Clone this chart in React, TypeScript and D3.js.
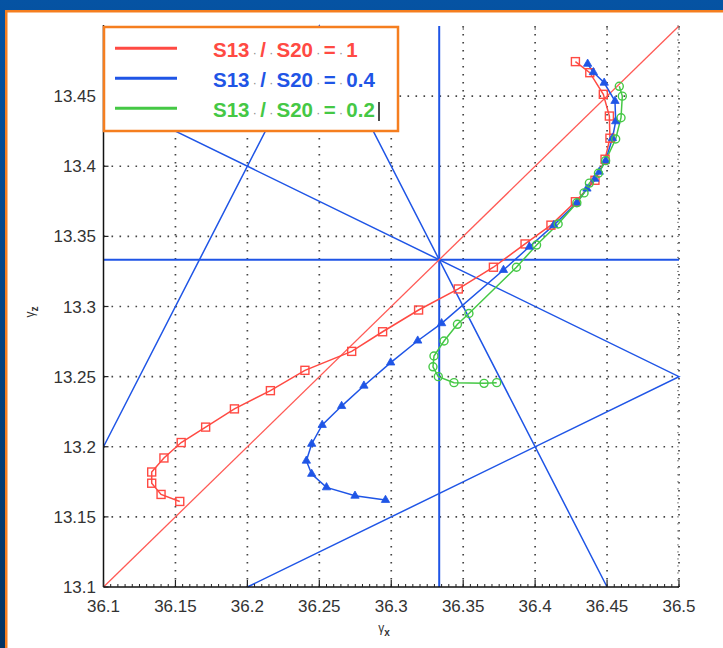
import React from "react";
import * as d3 from "d3";

// ---- data ----
const xTickValues = [36.1, 36.15, 36.2, 36.25, 36.3, 36.35, 36.4, 36.45, 36.5];
const xTickLabels = ["36.1", "36.15", "36.2", "36.25", "36.3", "36.35", "36.4", "36.45", "36.5"];
const yTickValues = [13.1, 13.15, 13.2, 13.25, 13.3, 13.35, 13.4, 13.45];
const yTickLabels = ["13.1", "13.15", "13.2", "13.25", "13.3", "13.35", "13.4", "13.45"];

const redSeries: [number, number][] = [
  [36.153, 13.161], [36.14, 13.166], [36.1335, 13.174], [36.1335, 13.182], [36.142, 13.192],
  [36.154, 13.203], [36.171, 13.214], [36.191, 13.227], [36.216, 13.24], [36.24, 13.2545],
  [36.2725, 13.268], [36.294, 13.282], [36.319, 13.2975], [36.3466, 13.3125], [36.371, 13.328],
  [36.393, 13.3446], [36.411, 13.358], [36.428, 13.3747], [36.4416, 13.39], [36.4486, 13.405],
  [36.452, 13.42], [36.4516, 13.4358], [36.4474, 13.4513], [36.438, 13.4667], [36.428, 13.4746],
];
const blueSeries: [number, number][] = [
  [36.296, 13.162], [36.2748, 13.165], [36.255, 13.171], [36.2447, 13.1806], [36.241, 13.19],
  [36.2447, 13.202], [36.252, 13.2155], [36.2655, 13.229], [36.281, 13.2435], [36.2996, 13.26],
  [36.3184, 13.2756], [36.335, 13.288], [36.378, 13.326], [36.396, 13.3426], [36.413, 13.358],
  [36.429, 13.374], [36.436, 13.384], [36.4415, 13.391], [36.4446, 13.396], [36.449, 13.404],
  [36.4537, 13.42], [36.456, 13.432], [36.4555, 13.4465], [36.448, 13.4595], [36.4405, 13.467],
  [36.4365, 13.473],
];
const greenSeries: [number, number][] = [
  [36.3733, 13.2457], [36.3645, 13.2452], [36.3436, 13.2457], [36.3327, 13.25], [36.329, 13.257],
  [36.3297, 13.2647], [36.3367, 13.2754], [36.346, 13.2873], [36.354, 13.295], [36.387, 13.328],
  [36.401, 13.3438], [36.416, 13.3588], [36.429, 13.374], [36.434, 13.381], [36.4377, 13.388],
  [36.444, 13.395], [36.449, 13.404], [36.456, 13.4194], [36.4597, 13.4346], [36.4606, 13.45],
  [36.4585, 13.457],
];

const refPolylines: [number, number][][] = [
  [[36.1, 13.2], [36.25, 13.5], [36.45, 13.1]],
  [[36.1, 13.45], [36.5, 13.25], [36.2, 13.1]],
];
const crossPoint: [number, number] = [36.33333, 13.33333];
const diagonal: [number, number][] = [[36.1, 13.1], [36.5, 13.5]];

const legendLabels = [
  ["S13", "/", "S20", "=", "1"],
  ["S13", "/", "S20", "=", "0.4"],
  ["S13", "/", "S20", "=", "0.2"],
];

// ---- styles ----
const RED = "#ff4a43";
const BLUE = "#1f55e6";
const GREEN = "#45c845";
const ORANGE = "#f57e1f";

const W = 723;
const H = 648;
const left = 103.5, right = 679, top = 26, bottom = 587;

export default function App() {
  const x = d3.scaleLinear().domain([36.1, 36.5]).range([left, right]);
  const y = d3.scaleLinear().domain([13.1, 13.5]).range([bottom, top]);
  const line = d3.line<[number, number]>().x((d) => x(d[0])).y((d) => y(d[1]));

  const minorX = d3.range(0, 81).map((i) => 36.1 + i * 0.005);
  const minorY = d3.range(0, 81).map((i) => 13.1 + i * 0.005);

  const tri = d3.symbol().type(d3.symbolTriangle).size(30)();

  const gridDash = "1.6,6.4";
  const series = [
    { data: redSeries, color: RED },
    { data: blueSeries, color: BLUE },
    { data: greenSeries, color: GREEN },
  ];
  const legendColors = [RED, BLUE, GREEN];

  return (
    <div style={{ position: "fixed", left: 0, top: 0, width: W, height: H }}>
      <svg width={W} height={H} style={{ display: "block" }} fontFamily="'Liberation Sans', Arial, sans-serif">
        <defs>
          <linearGradient id="frameGrad" x1="0" y1="0" x2="0" y2="1">
            <stop offset="0" stopColor="#0553a3" />
            <stop offset="1" stopColor="#033463" />
          </linearGradient>
        </defs>
        <rect x={0} y={0} width={W} height={H} fill="url(#frameGrad)" />
        <rect x={5} y={10} width={W - 5} height={H - 10} fill={ORANGE} />
        <rect x={7.5} y={12.5} width={W - 7.5} height={H - 12.5} fill="#ffffff" />

        {/* grid */}
        {xTickValues.slice(1).map((v) => (
          <line key={"gx" + v} x1={x(v)} x2={x(v)} y1={top} y2={bottom} stroke="#444" strokeWidth={1.7} strokeDasharray={gridDash} />
        ))}
        {yTickValues.slice(1).map((v) => (
          <line key={"gy" + v} x1={left} x2={right} y1={y(v)} y2={y(v)} stroke="#444" strokeWidth={1.7} strokeDasharray={gridDash} />
        ))}
        {/* right edge minor ticks */}
        {minorY.map((v, i) => (
          <line key={"ry" + i} x1={right - 2} x2={right} y1={y(v)} y2={y(v)} stroke="#888" strokeWidth={1} />
        ))}

        {/* reference lines */}
        {refPolylines.map((pl, i) => (
          <path key={"ref" + i} d={line(pl) || ""} fill="none" stroke={BLUE} strokeWidth={1.5} />
        ))}
        <line x1={left} x2={right} y1={y(crossPoint[1])} y2={y(crossPoint[1])} stroke={BLUE} strokeWidth={2} />
        <line x1={x(crossPoint[0])} x2={x(crossPoint[0])} y1={top} y2={bottom} stroke={BLUE} strokeWidth={2} />
        <path d={line(diagonal) || ""} fill="none" stroke="#ff5a55" strokeWidth={1.3} />

        {/* series */}
        {series.map((s, i) => (
          <path key={"s" + i} d={line(s.data) || ""} fill="none" stroke={s.color} strokeWidth={1.5} />
        ))}
        {redSeries.map((d, i) => (
          <rect key={"rm" + i} x={x(d[0]) - 4} y={y(d[1]) - 4} width={8} height={8} fill="none" stroke={RED} strokeWidth={1.4} />
        ))}
        {blueSeries.map((d, i) => (
          <path key={"bm" + i} d={tri || ""} transform={`translate(${x(d[0])},${y(d[1])})`} fill={BLUE} stroke={BLUE} strokeWidth={0.8} />
        ))}
        {greenSeries.map((d, i) => (
          <circle key={"gm" + i} cx={x(d[0])} cy={y(d[1])} r={4} fill="none" stroke={GREEN} strokeWidth={1.4} />
        ))}

        {/* axes */}
        <line x1={left} x2={left} y1={top - 1} y2={bottom} stroke="#111" strokeWidth={1.5} />
        <line x1={left} x2={right} y1={bottom} y2={bottom} stroke="#111" strokeWidth={1.5} />
        {minorX.map((v, i) => (
          <line key={"mx" + i} x1={x(v)} x2={x(v)} y1={bottom} y2={bottom - 3} stroke="#222" strokeWidth={1} />
        ))}
        {xTickValues.map((v) => (
          <g key={"tx" + v}>
            <line x1={x(v)} x2={x(v)} y1={bottom} y2={bottom - 7} stroke="#222" strokeWidth={1.2} />
            <line x1={x(v)} x2={x(v)} y1={top} y2={top + 4} stroke="#666" strokeWidth={1} />
          </g>
        ))}
        {yTickValues.map((v) => (
          <line key={"ty" + v} x1={left} x2={left + 5} y1={y(v)} y2={y(v)} stroke="#222" strokeWidth={1.2} />
        ))}
        {xTickValues.map((v, i) => (
          <text key={"xl" + v} x={x(v)} y={612} textAnchor="middle" fontSize={17} fill="#333">
            {xTickLabels[i]}
          </text>
        ))}
        {yTickValues.map((v, i) => (
          <text key={"yl" + v} x={96} y={y(v) + 6} textAnchor="end" fontSize={17} fill="#333">
            {yTickLabels[i]}
          </text>
        ))}
        <text x={384} y={632} textAnchor="middle" fontSize={12} fill="#333">
          γ<tspan fontSize={10} fontWeight="bold" dy={4}>x</tspan>
        </text>
        <text transform="translate(34,312) rotate(-90)" textAnchor="middle" fontSize={12} fill="#333">
          γ<tspan fontSize={10} fontWeight="bold" dy={4}>z</tspan>
        </text>

        {/* legend */}
        <rect x={104} y={27} width={294} height={104} fill="#fff" stroke={ORANGE} strokeWidth={2.5} />
        {legendLabels.map((tokens, i) => {
          const ly = 48.3 + i * 30;
          return (
            <g key={"lg" + i}>
              <line x1={115} x2={177} y1={ly} y2={ly} stroke={legendColors[i]} strokeWidth={3} />
              <text x={213} y={ly + 8.3} fontSize={20.5} fontWeight="bold" fill={legendColors[i]}>
                {tokens.map((t, j) => (
                  <React.Fragment key={j}>
                    <tspan>{t}</tspan>
                    {j < tokens.length - 1 ? (
                      <tspan fill="#888" fontWeight="normal" fontSize={12}> · </tspan>
                    ) : null}
                  </React.Fragment>
                ))}
              </text>
            </g>
          );
        })}
        <line x1={379} x2={379} y1={102} y2={121} stroke="#111" strokeWidth={1.5} />
      </svg>
    </div>
  );
}
